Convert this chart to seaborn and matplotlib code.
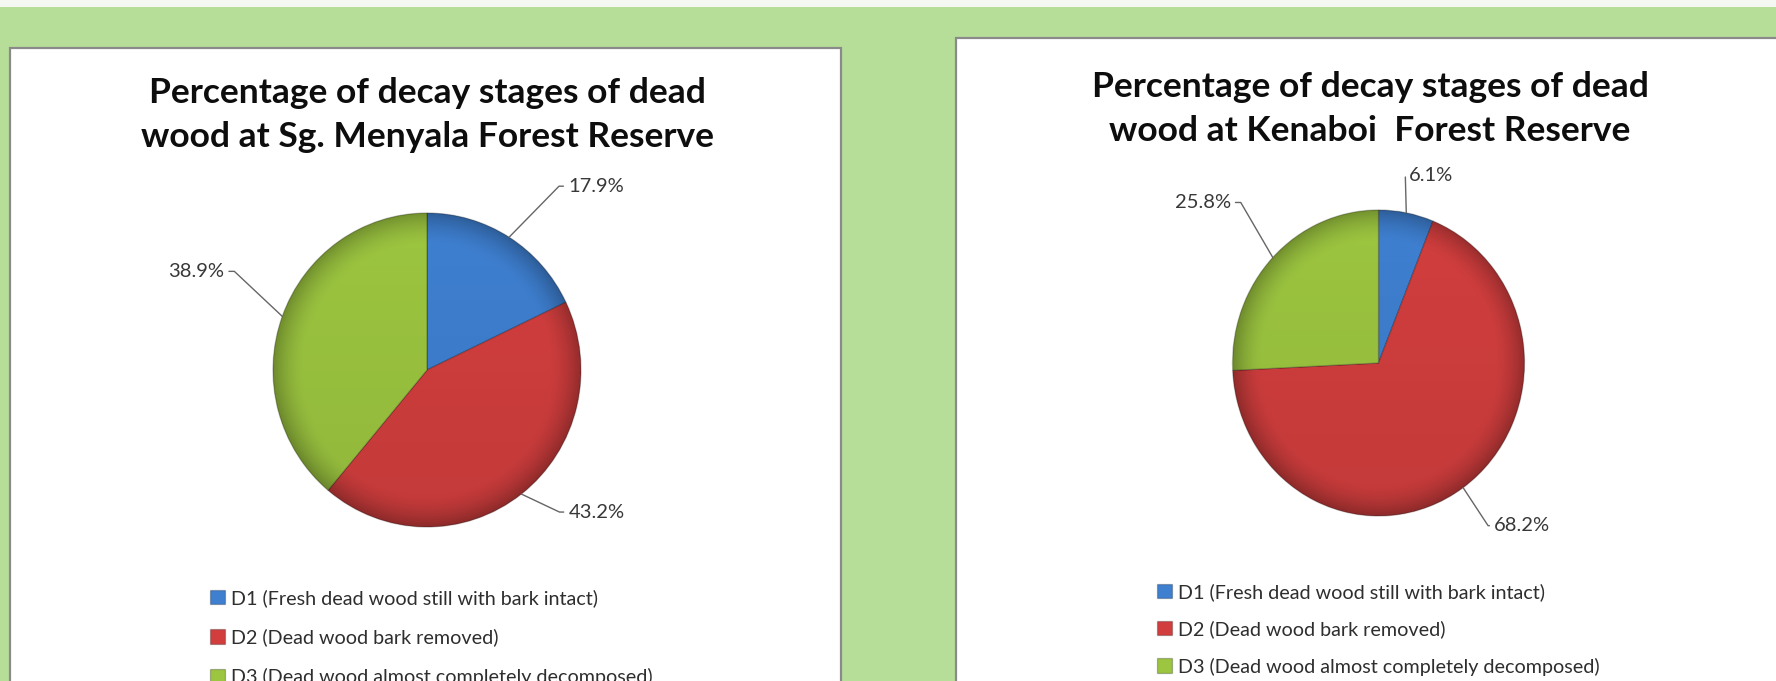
import numpy as np
import matplotlib
matplotlib.use("Agg")
import matplotlib.pyplot as plt
from matplotlib.patches import Rectangle, Ellipse
import seaborn as sns

# ---------------- data ----------------
categories = [
    "D1 (Fresh dead wood still with bark intact)",
    "D2 (Dead wood bark removed)",
    "D3 (Dead wood almost completely decomposed)",
]
menyala_pct = [17.9, 43.2, 38.9]
kenaboi_pct = [6.1, 68.2, 25.8]
titles = [
    "Percentage of decay stages of dead\nwood at Sg. Menyala Forest Reserve",
    "Percentage of decay stages of dead\nwood at Kenaboi  Forest Reserve",
]

# ---------------- style ----------------
sns.set_theme(style="white")
plt.rcParams["font.family"] = ["Lato", "DejaVu Sans"]
palette = sns.color_palette(["#3e7fd0", "#d23e3e", "#9cc540"])

W, H = 1776, 681
fig = plt.figure(figsize=(W / 100, H / 100), dpi=100, facecolor="#b6de99")


def rect(x0, y0, x1, y1):
    return [x0 / W, 1 - y1 / H, (x1 - x0) / W, (y1 - y0) / H]


# top light strip
fig.patches.append(Rectangle((0, 1 - 7 / H), 1, 7 / H, transform=fig.transFigure,
                             facecolor="#f4f7f2", edgecolor="none", zorder=-3))
# white panels
for (x0, y0, x1, y1) in [(10, 48, 841, 700), (956, 38, 1800, 700)]:
    fig.patches.append(Rectangle((x0 / W, 1 - y1 / H), (x1 - x0) / W, (y1 - y0) / H,
                                 transform=fig.transFigure, facecolor="white",
                                 edgecolor="#8a8a8a", linewidth=1.6, zorder=-2))

panels = [
    dict(values=menyala_pct, title=titles[0], cx=427, cy=370, rx=154, ry=157,
         title_x=427, title_y=[92, 138],
         labels=[(59, 51, "left", 9), (47, -18, "left", 9), (-58, 45, "right", 10)],
         legend_xy=(210, 589), legend_spacing=1.1),
    dict(values=kenaboi_pct, title=titles[1], cx=1378.5, cy=363, rx=146, ry=153,
         title_x=1370, title_y=[86, 132],
         labels=[(3, 37, "left", 4), (31, -38, "left", 6), (-42, 55, "right", 10)],
         legend_xy=(1157, 583), legend_spacing=0.98),
]

for p in panels:
    # title
    fig.text(p["title_x"] / W, 1 - (sum(p["title_y"]) / 2) / H, p["title"],
             ha="center", va="center", fontsize=25.5, fontweight="bold",
             color="#0d0d0d", linespacing=1.45, zorder=5)

    ax = fig.add_axes(rect(p["cx"] - p["rx"], p["cy"] - p["ry"],
                           p["cx"] + p["rx"], p["cy"] + p["ry"]))
    ax.set_zorder(2)
    ax.patch.set_alpha(0)
    wedges, _ = ax.pie(p["values"], colors=palette, startangle=90, counterclock=False,
                       radius=1, wedgeprops=dict(edgecolor=(0, 0, 0, 0.25), linewidth=0.9))
    ax.set_xlim(-1, 1)
    ax.set_ylim(-1, 1)
    ax.set_aspect("auto")
    ax.axis("off")

    # subtle 3D shading overlay
    yy, xx = np.mgrid[1:-1:300j, -1:1:300j]
    rr = np.sqrt(xx ** 2 + yy ** 2)
    alpha = 0.26 * np.clip((rr - 0.8) / 0.2, 0, 1) ** 1.6 + 0.07 * (1 - yy) / 2
    overlay = np.zeros((300, 300, 4))
    overlay[..., 3] = np.clip(alpha, 0, 1)
    im = ax.imshow(overlay, extent=(-1, 1, -1, 1), zorder=3, aspect="auto")
    clip = Ellipse((0, 0), 2, 2, transform=ax.transData)
    im.set_clip_path(clip)
    ax.set_xlim(-1, 1)
    ax.set_ylim(-1, 1)

    # labels with leader lines
    total = sum(p["values"])
    start = 90.0
    for v, (dx, dy, ha, gap) in zip(p["values"], p["labels"]):
        sweep = 360.0 * v / total
        mid = np.deg2rad(start - sweep / 2)
        start -= sweep
        xy = (np.cos(mid), np.sin(mid))
        cxn = dx - gap if ha == "left" else dx + gap
        angB = np.degrees(np.arctan2(dy, cxn))
        ax.annotate(f"{v:.1f}%", xy=xy, xycoords="data", xytext=(dx, dy),
                    textcoords="offset pixels", ha=ha, va="center", fontsize=14.5,
                    color="#383838", annotation_clip=False,
                    arrowprops=dict(arrowstyle="-", color="#666666", lw=1.0,
                                    shrinkA=1, shrinkB=0,
                                    connectionstyle=f"angle,angleA=0,angleB={angB:.1f},rad=0"))

    # legend
    lx, ly = p["legend_xy"]
    leg = fig.legend(wedges, categories, loc="upper left",
                     bbox_to_anchor=(lx / W, 1 - ly / H), bbox_transform=fig.transFigure,
                     frameon=False, fontsize=14.2, handlelength=0.75, handleheight=0.75,
                     handletextpad=0.3, labelspacing=p["legend_spacing"], borderpad=0,
                     borderaxespad=0, labelcolor="#2e2e2e")
    leg.set_zorder(5)

fig.savefig("out.png", dpi=100, facecolor=fig.get_facecolor())
